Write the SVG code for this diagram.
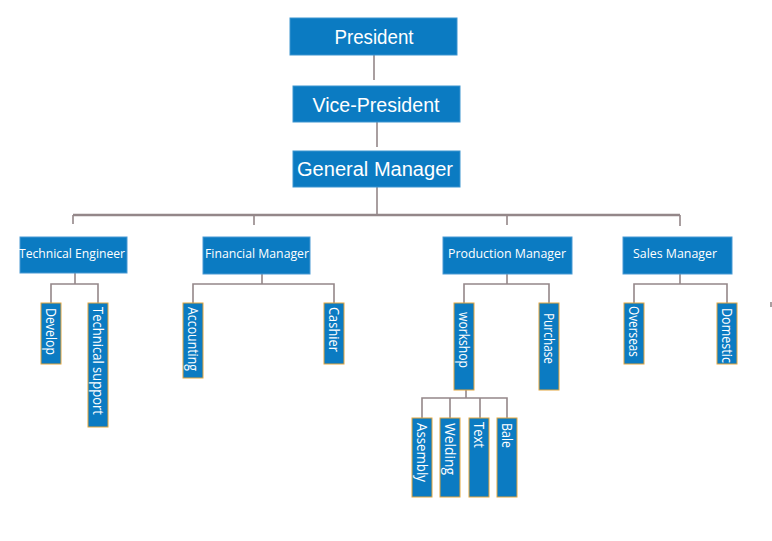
<svg xmlns="http://www.w3.org/2000/svg" width="772" height="541" viewBox="0 0 772 541">
<style>
.top rect{fill:#0b7bc2;stroke:#3c95d0;stroke-width:1}
.top text{font-family:"Liberation Sans",Arial,sans-serif;font-size:19.5px;fill:#fff;text-anchor:middle}
.mid rect{fill:#0b7bc2;stroke:#4a9ad3;stroke-width:1}
.mid text{font-family:"Open Sans","Noto Sans",sans-serif;font-size:13.5px;fill:#fff;text-anchor:middle}
.leaf rect{fill:#0b7bc2;stroke:#e4a53c;stroke-width:1}
.leaf text{font-family:"Open Sans","Noto Sans",sans-serif;font-size:15px;fill:#fff}
#connectors path{fill:none;stroke:#948789;stroke-width:1.6}
#connectors .bus{stroke-width:2.6}
</style>
<rect width="772" height="541" fill="#fff"/>
<g id="connectors">
<path d="M374 55V80M377 122V147M377 187V215"/>
<path class="bus" d="M73 215H680"/>
<path d="M73 215V224M254 215V225M507 215V225M680 215V226"/>
<path d="M75 273V284M51 303V284H98V303"/>
<path d="M262 274V284M193 303V284H334V303"/>
<path d="M507 274V284M464 303V284H549V303"/>
<path d="M680 274V284M634 303V284H727V303"/>
<path d="M466 390V398M422 418V398H507V418M450 398V418M480 398V418"/>
<path d="M771 302V307"/>
</g>
<g id="president" class="top"><rect x="290" y="18" width="167" height="37"/><text x="374" y="44" textLength="79" lengthAdjust="spacingAndGlyphs">President</text></g>
<g id="vice-president" class="top"><rect x="293" y="86" width="167" height="36"/><text x="376" y="112" textLength="127" lengthAdjust="spacingAndGlyphs">Vice-President</text></g>
<g id="general-manager" class="top"><rect x="293" y="151" width="167" height="36"/><text x="375" y="176" textLength="156" lengthAdjust="spacingAndGlyphs">General Manager</text></g>
<g id="technical-engineer" class="mid"><rect x="20" y="237" width="107" height="36"/><text x="72" y="258" textLength="106" lengthAdjust="spacingAndGlyphs">Technical Engineer</text></g>
<g id="financial-manager" class="mid"><rect x="203" y="237" width="107" height="37"/><text x="257" y="258" textLength="104" lengthAdjust="spacingAndGlyphs">Financial Manager</text></g>
<g id="production-manager" class="mid"><rect x="443" y="237" width="129" height="37"/><text x="507" y="258" textLength="118" lengthAdjust="spacingAndGlyphs">Production Manager</text></g>
<g id="sales-manager" class="mid"><rect x="623" y="237" width="109" height="37"/><text x="675" y="258" textLength="84" lengthAdjust="spacingAndGlyphs">Sales Manager</text></g>
<g id="develop" class="leaf"><rect x="41" y="303" width="20" height="61"/><text transform="translate(51 308) rotate(90)" y="5.5" textLength="47" lengthAdjust="spacingAndGlyphs">Develop</text></g>
<g id="technical-support" class="leaf"><rect x="88" y="303" width="20" height="124"/><text transform="translate(98 307) rotate(90)" y="5.5" textLength="108" lengthAdjust="spacingAndGlyphs">Technical support</text></g>
<g id="accounting" class="leaf"><rect x="183" y="303" width="20" height="75"/><text transform="translate(193 307) rotate(90)" y="5.5" textLength="64" lengthAdjust="spacingAndGlyphs">Accounting</text></g>
<g id="cashier" class="leaf"><rect x="324" y="303" width="20" height="61"/><text transform="translate(334 307) rotate(90)" y="5.5" textLength="45" lengthAdjust="spacingAndGlyphs">Cashier</text></g>
<g id="workshop" class="leaf"><rect x="454" y="303" width="20" height="87"/><text transform="translate(464 312) rotate(90)" y="5.5" textLength="56" lengthAdjust="spacingAndGlyphs">workshop</text></g>
<g id="purchase" class="leaf"><rect x="539" y="303" width="20" height="87"/><text transform="translate(549 313) rotate(90)" y="5.5" textLength="51" lengthAdjust="spacingAndGlyphs">Purchase</text></g>
<g id="overseas" class="leaf"><rect x="624" y="303" width="20" height="61"/><text transform="translate(634 306) rotate(90)" y="5.5" textLength="51" lengthAdjust="spacingAndGlyphs">Overseas</text></g>
<g id="domestic" class="leaf"><rect x="717" y="303" width="20" height="61"/><text transform="translate(727 308) rotate(90)" y="5.5" textLength="55" lengthAdjust="spacingAndGlyphs">Domestic</text></g>
<g id="assembly" class="leaf"><rect x="412" y="418" width="20" height="79"/><text transform="translate(422 423) rotate(90)" y="5.5" textLength="59" lengthAdjust="spacingAndGlyphs">Assembly</text></g>
<g id="welding" class="leaf"><rect x="440" y="418" width="20" height="79"/><text transform="translate(450 423) rotate(90)" y="5.5" textLength="52" lengthAdjust="spacingAndGlyphs">Welding</text></g>
<g id="text" class="leaf"><rect x="469" y="418" width="20" height="79"/><text transform="translate(479 422) rotate(90)" y="5.5" textLength="26" lengthAdjust="spacingAndGlyphs">Text</text></g>
<g id="bale" class="leaf"><rect x="497" y="418" width="20" height="79"/><text transform="translate(507 423) rotate(90)" y="5.5" textLength="25" lengthAdjust="spacingAndGlyphs">Bale</text></g>
</svg>
